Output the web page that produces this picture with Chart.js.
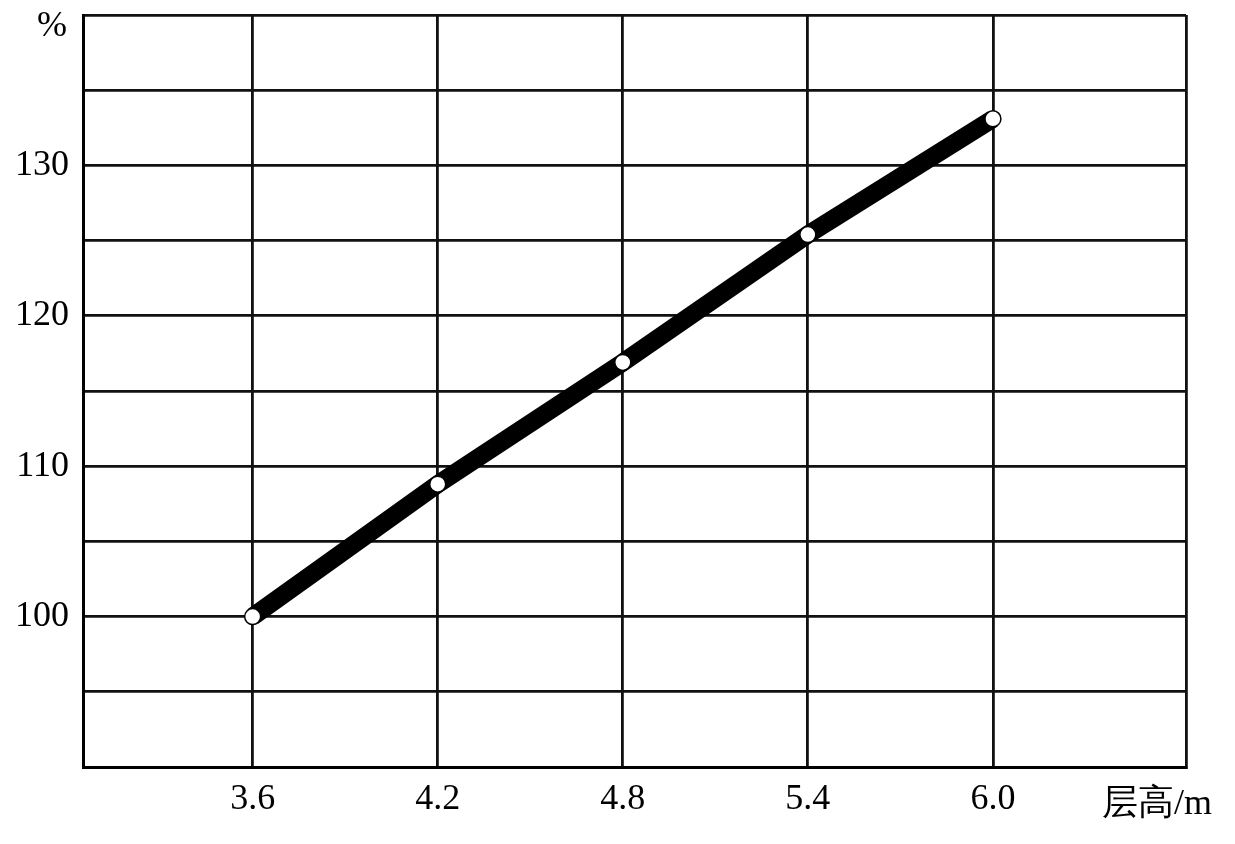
<!DOCTYPE html>
<html>
<head>
<meta charset="utf-8">
<script src="https://cdn.jsdelivr.net/npm/chart.js@4"></script>
<style>
  body { margin: 0; background: #fff; }
  canvas { display: block; }
</style>
</head>
<body>
<canvas id="grafico" width="1235" height="844"></canvas>
<script>
// dados
const alturas = [3.6, 4.2, 4.8, 5.4, 6.0];        // 层高 (m)
const percentuais = [100, 108.8, 116.9, 125.4, 133.1]; // %
const yRotulos = [100, 110, 120, 130];
const xMin = 3.05, xMax = 6.626;
const yMin = 90, yMax = 140;

const fonte = "'Liberation Serif', 'Times New Roman', serif";

// escreve as unidades dos eixos (% e 层高/m)
const unidades = {
    id: 'unidades',
    afterDraw(chart) {
        const { ctx, chartArea } = chart;
        ctx.save();
        ctx.fillStyle = '#000';
        ctx.font = '36px ' + fonte;
        ctx.textBaseline = 'middle';
        ctx.textAlign = 'right';
        ctx.fillText('%', chartArea.left - 16, chartArea.top + 12);
        ctx.textAlign = 'left';
        ctx.fillText('层高/m', chartArea.right - 84, chartArea.bottom + 38);
        ctx.restore();
    }
};

new Chart(document.getElementById('grafico'), {
    type: 'line',
    data: {
        datasets: [{
            data: alturas.map((x, i) => ({ x: x, y: percentuais[i] })),
            borderColor: '#000',
            borderWidth: 18,
            borderCapStyle: 'butt',
            tension: 0,
            pointRadius: 8,
            pointBackgroundColor: '#fff',
            pointBorderColor: '#000',
            pointBorderWidth: 1.5
        }]
    },
    options: {
        responsive: false,
        animation: false,
        layout: { padding: { top: 15, right: 49, left: 0, bottom: 0 } },
        plugins: { legend: { display: false }, tooltip: { enabled: false } },
        scales: {
            x: {
                type: 'linear',
                min: xMin,
                max: xMax,
                afterBuildTicks: (scale) => {
                    scale.ticks = [xMin, ...alturas, xMax].map(v => ({ value: v }));
                },
                afterFit: (scale) => {
                    scale.height = 77;
                    scale.paddingLeft = 0;
                    scale.paddingRight = 0;
                },
                grid: { color: '#111', lineWidth: 2.8, drawTicks: false },
                border: { color: '#000', width: 3 },
                ticks: {
                    color: '#000',
                    padding: 11,
                    font: { family: fonte, size: 36 },
                    callback: (v) => alturas.includes(v) ? v.toFixed(1) : ''
                }
            },
            y: {
                min: yMin,
                max: yMax,
                afterFit: (scale) => {
                    scale.width = 83;
                    scale.paddingTop = 0;
                    scale.paddingBottom = 0;
                },
                grid: { color: '#111', lineWidth: 2.8, drawTicks: false },
                border: { color: '#000', width: 3 },
                ticks: {
                    stepSize: 5,
                    color: '#000',
                    padding: 14,
                    font: { family: fonte, size: 36 },
                    callback: (v) => yRotulos.includes(v) ? String(v) : ''
                }
            }
        }
    },
    plugins: [unidades]
});
</script>
</body>
</html>
